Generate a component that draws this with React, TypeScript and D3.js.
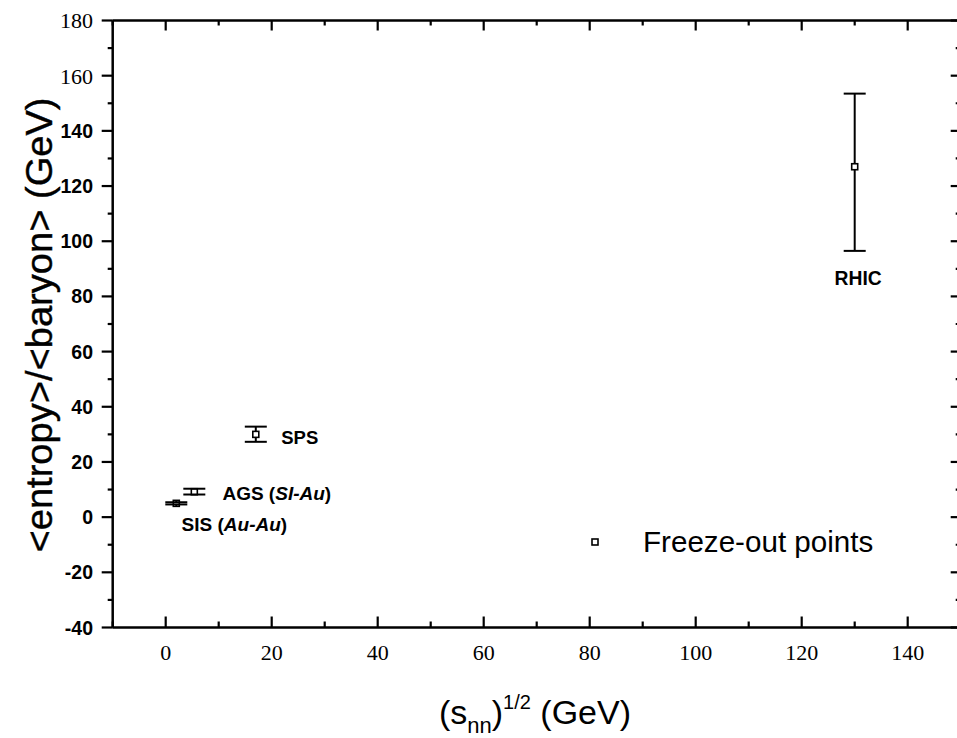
import React from "react";
import * as d3 from "d3";

const labels = ["SIS (Au-Au)", "AGS (SI-Au)", "SPS", "RHIC"];
const energies = [2.0, 5.4, 17.0, 130.0];
const values = [5.0, 9.2, 30.0, 127.0];
const errLow = [0.4, 1.0, 2.7, 30.5];
const errHigh = [0.4, 1.1, 2.8, 26.5];
const xMajorTicks = [0, 20, 40, 60, 80, 100, 120, 140];
const yMajorTicks = [-40, -20, 0, 20, 40, 60, 80, 100, 120, 140, 160, 180];
const legendLabel = "Freeze-out points";

const W = 957;
const H = 738;

export default function App() {
  const x = d3.scaleLinear().domain([-10, 150]).range([112.7, 960.7]);
  const y = d3.scaleLinear().domain([-40, 180]).range([627.5, 20.5]);
  const [x0, x1] = x.range();
  const [yb, yt] = y.range();
  const xMinor = d3.range(-10, 151, 10).filter((v) => v % 20 !== 0);
  const yMinor = d3.range(-30, 180, 20);
  const sans = "'Liberation Sans', Arial, Helvetica, sans-serif";
  const serif = "'Liberation Serif', 'Times New Roman', serif";
  const capW = 11;

  // label offsets relative to the point (layout only)
  const labelDx = [1, 5.3, 4.8, -3.8];
  const labelDy = [10, 3, 3.5, 43];
  const labelSize = [19, 19, 18.5, 19.3];
  const parts = labels.map((l) => {
    const m = l.match(/^(\S+) \((.+)\)$/);
    return m ? { main: m[1], inner: m[2] } : { main: l, inner: null };
  });

  return (
    <svg
      width={W}
      height={H}
      style={{ position: "absolute", left: 0, top: 0, background: "#fff" }}
    >
      <rect x={0} y={0} width={W} height={H} fill="#fff" />
      {/* frame */}
      <g stroke="#000" strokeWidth={2.5} fill="none">
        <line x1={x0} y1={yb} x2={x1} y2={yb} />
        <line x1={x0} y1={yt} x2={x1} y2={yt} />
        <line x1={x0} y1={yb} x2={x0} y2={yt} />
        <line x1={x1} y1={yb} x2={x1} y2={yt} />
      </g>
      {/* ticks */}
      <g stroke="#000" strokeWidth={2.2}>
        {xMajorTicks.map((v) => (
          <g key={"xm" + v}>
            <line x1={x(v)} x2={x(v)} y1={yb} y2={yb - 11} />
            <line x1={x(v)} x2={x(v)} y1={yt} y2={yt + 10} />
          </g>
        ))}
        {xMinor.map((v) => (
          <g key={"xn" + v}>
            <line x1={x(v)} x2={x(v)} y1={yb} y2={yb - 6} />
            <line x1={x(v)} x2={x(v)} y1={yt} y2={yt + 5} />
          </g>
        ))}
        {yMajorTicks.map((v) => (
          <g key={"ym" + v}>
            <line x1={x0} x2={x0 - 11} y1={y(v)} y2={y(v)} />
            <line x1={x1} x2={x1 - 10} y1={y(v)} y2={y(v)} />
          </g>
        ))}
        {yMinor.map((v) => (
          <g key={"yn" + v}>
            <line x1={x0} x2={x0 - 5} y1={y(v)} y2={y(v)} />
            <line x1={x1} x2={x1 - 5} y1={y(v)} y2={y(v)} />
          </g>
        ))}
      </g>
      {/* tick labels */}
      {xMajorTicks.map((v) => (
        <text
          key={"xl" + v}
          x={x(v)}
          y={660}
          textAnchor="middle"
          fontFamily={serif}
          fontSize={22}
          fill="#000"
        >
          {v}
        </text>
      ))}
      {yMajorTicks.map((v) => (
        <text
          key={"yl" + v}
          x={93}
          y={y(v)}
          dy="0.36em"
          textAnchor="end"
          fontFamily={v >= 160 ? serif : sans}
          fontWeight={v >= 160 ? "normal" : "bold"}
          fontSize={v >= 160 ? 22 : 19.5}
          fill="#000"
        >
          {v}
        </text>
      ))}
      {/* points and error bars */}
      {energies.map((e, i) => {
        const cx = x(e);
        const cy = y(values[i]);
        const lo = y(values[i] - errLow[i]);
        const hi = y(values[i] + errHigh[i]);
        return (
          <g key={"p" + i} stroke="#000" strokeWidth={2}>
            <rect
              x={cx - 3}
              y={cy - 3}
              width={6}
              height={6}
              fill="#fff"
              strokeWidth={1.6}
            />
            <line x1={cx} x2={cx} y1={lo} y2={cy + 3} />
            <line x1={cx} x2={cx} y1={cy - 3} y2={hi} />
            <line x1={cx - capW} x2={cx + capW} y1={lo} y2={lo} />
            <line x1={cx - capW} x2={cx + capW} y1={hi} y2={hi} />
          </g>
        );
      })}
      {/* point labels */}
      {energies.map((e, i) => (
        <text
          key={"t" + i}
          x={x(e + labelDx[i])}
          y={y(values[i] - labelDy[i])}
          fontFamily={sans}
          fontWeight="bold"
          fontSize={labelSize[i]}
          fill="#000"
        >
          {parts[i].main}
          {parts[i].inner && (
            <>
              {" ("}
              <tspan fontStyle="italic">{parts[i].inner}</tspan>
              {")"}
            </>
          )}
        </text>
      ))}
      {/* legend */}
      <rect
        x={592}
        y={539}
        width={6}
        height={6}
        fill="#fff"
        stroke="#000"
        strokeWidth={1.6}
      />
      <text x={643} y={552} fontFamily={sans} fontSize={29.6} fill="#000">
        {legendLabel}
      </text>
      {/* axis titles */}
      <text
        transform="translate(52,325) rotate(-90)"
        textAnchor="middle"
        fontFamily={sans}
        fontSize={37}
        textLength={455}
        lengthAdjust="spacingAndGlyphs"
        stroke="#000"
        strokeWidth={0.4}
        fill="#000"
      >
        {"<entropy>/<baryon> (GeV)"}
      </text>
      <text
        x={535}
        y={724}
        textAnchor="middle"
        fontFamily={sans}
        fontSize={34}
        fill="#000"
      >
        (s
        <tspan fontSize={22} dy={9}>
          nn
        </tspan>
        <tspan dy={-9}>)</tspan>
        <tspan fontSize={20} dy={-15}>
          1/2
        </tspan>
        <tspan dy={15}> (GeV)</tspan>
      </text>
    </svg>
  );
}
